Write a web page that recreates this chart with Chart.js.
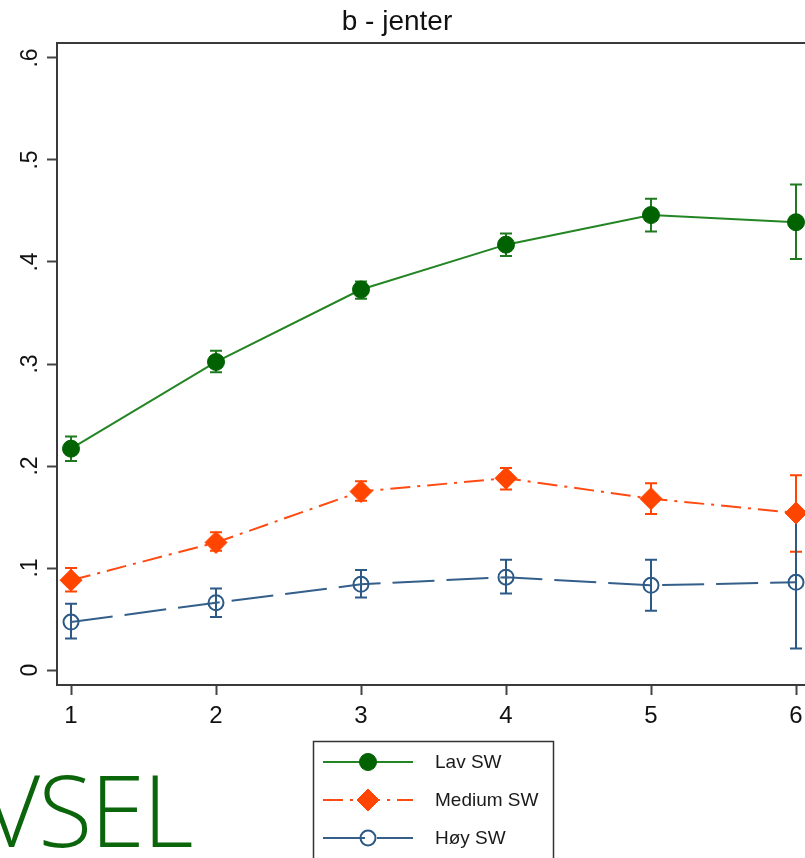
<!DOCTYPE html>
<html>
<head>
<meta charset="utf-8">
<script src="https://cdn.jsdelivr.net/npm/chart.js@4/dist/chart.umd.min.js"></script>
<style>
  html, body { margin: 0; padding: 0; background: #fff; }
  body { width: 805px; height: 858px; overflow: hidden; position: relative; }
  #wrap { position: absolute; left: 0; top: 0; width: 830px; height: 858px; }
  #big { position: absolute; left: -17px; top: 759px; font-family: 'Open Sans', sans-serif;
         font-size: 99px; font-weight: 300; letter-spacing: -2px; line-height: 1; color: #0b650b; white-space: nowrap; }
</style>
</head>
<body>
<div id="wrap"><canvas id="chart" width="830" height="858"></canvas></div>
<div id="big">VSEL</div>
<script>
// verdier lest av figuren
const xValues = [1, 2, 3, 4, 5, 6];
const xTicks = [1, 2, 3, 4, 5, 6];
const yTicks = [0, 0.1, 0.2, 0.3, 0.4, 0.5, 0.6];
const yTickLabels = ['0', '.1', '.2', '.3', '.4', '.5', '.6'];

const lav = [0.217, 0.302, 0.373, 0.417, 0.446, 0.439];
const lavLo = [0.205, 0.292, 0.364, 0.406, 0.430, 0.403];
const lavHi = [0.229, 0.313, 0.381, 0.428, 0.462, 0.476];

const medium = [0.088, 0.125, 0.175, 0.188, 0.168, 0.154];
const mediumLo = [0.077, 0.117, 0.166, 0.177, 0.153, 0.116];
const mediumHi = [0.100, 0.135, 0.185, 0.198, 0.183, 0.191];

const hoy = [0.047, 0.066, 0.084, 0.091, 0.083, 0.086];
const hoyLo = [0.031, 0.052, 0.071, 0.075, 0.058, 0.021];
const hoyHi = [0.065, 0.080, 0.098, 0.108, 0.108, 0.151];

const seriesNames = ['Lav SW', 'Medium SW', 'Høy SW'];
const title = 'b - jenter';

const errLo = [lavLo, mediumLo, hoyLo];
const errHi = [lavHi, mediumHi, hoyHi];

const toPoints = arr => arr.map((v, i) => ({ x: xValues[i], y: v }));

// ----- feilstolper -----
const errorBars = {
  id: 'errorBars',
  beforeDatasetsDraw(chart) {
    const ctx = chart.ctx;
    const yScale = chart.scales.y;
    chart.data.datasets.forEach((ds, di) => {
      const meta = chart.getDatasetMeta(di);
      ctx.save();
      ctx.strokeStyle = ds.barColor;
      ctx.lineWidth = 2;
      ctx.setLineDash([]);
      meta.data.forEach((pt, i) => {
        const yl = yScale.getPixelForValue(errLo[di][i]);
        const yh = yScale.getPixelForValue(errHi[di][i]);
        ctx.beginPath();
        ctx.moveTo(pt.x, yl); ctx.lineTo(pt.x, yh);
        ctx.moveTo(pt.x - 6, yl); ctx.lineTo(pt.x + 6, yl);
        ctx.moveTo(pt.x - 6, yh); ctx.lineTo(pt.x + 6, yh);
        ctx.stroke();
      });
      ctx.restore();
    });
  }
};

function drawMarker(ctx, style, x, y, r, fill, stroke, bw) {
  ctx.beginPath();
  if (style === 'rectRot') {
    ctx.moveTo(x, y - r); ctx.lineTo(x + r, y); ctx.lineTo(x, y + r); ctx.lineTo(x - r, y);
    ctx.closePath();
  } else {
    ctx.arc(x, y, r, 0, Math.PI * 2);
  }
  if (fill && fill !== 'transparent') { ctx.fillStyle = fill; ctx.fill(); }
  ctx.lineWidth = bw;
  ctx.strokeStyle = stroke;
  ctx.stroke();
}

// ----- tittel, y-etiketter, ramme og forklaring -----
const extras = {
  id: 'extras',
  afterDraw(chart) {
    const ctx = chart.ctx;
    const area = chart.chartArea;
    const yScale = chart.scales.y;
    ctx.save();
    // topplinje
    ctx.strokeStyle = '#3a3a3a';
    ctx.lineWidth = 2;
    ctx.beginPath();
    ctx.moveTo(area.left, area.top); ctx.lineTo(area.right, area.top);
    ctx.stroke();

    // tittel
    ctx.fillStyle = '#111';
    ctx.font = '28px "Liberation Sans", Arial, sans-serif';
    ctx.textAlign = 'center';
    ctx.textBaseline = 'alphabetic';
    ctx.fillText(title, 397, 30);

    // y-etiketter, rotert
    ctx.font = '23px "Liberation Sans", Arial, sans-serif';
    yTicks.forEach((v, i) => {
      const py = yScale.getPixelForValue(v);
      ctx.save();
      ctx.translate(37, py);
      ctx.rotate(-Math.PI / 2);
      ctx.textAlign = 'center';
      ctx.textBaseline = 'alphabetic';
      ctx.fillText(yTickLabels[i], 0, 0);
      ctx.restore();
    });

    // forklaring
    ctx.fillStyle = '#fff';
    ctx.fillRect(313, 741, 240, 140);
    ctx.strokeStyle = '#333';
    ctx.lineWidth = 1.5;
    ctx.strokeRect(313.5, 741.5, 240, 140);
    const rows = [762, 800, 838];
    chart.data.datasets.forEach((ds, di) => {
      const y = rows[di];
      ctx.save();
      ctx.strokeStyle = ds.borderColor;
      ctx.lineWidth = 2;
      ctx.setLineDash(ds.borderDash || []);
      ctx.beginPath();
      ctx.moveTo(323, y); ctx.lineTo(413, y);
      ctx.stroke();
      ctx.setLineDash([]);
      drawMarker(ctx, ds.pointStyle, 368, y, ds.pointRadius, ds.pointBackgroundColor, ds.pointBorderColor, ds.pointBorderWidth);
      ctx.restore();
      ctx.fillStyle = '#1a1a1a';
      ctx.font = '19px "Liberation Sans", Arial, sans-serif';
      ctx.textAlign = 'left';
      ctx.textBaseline = 'middle';
      ctx.fillText(seriesNames[di], 435, y + 1);
    });
    ctx.restore();
  }
};

const ctx = document.getElementById('chart').getContext('2d');
new Chart(ctx, {
  type: 'line',
  data: {
    datasets: [
      {
        label: seriesNames[0],
        data: toPoints(lav),
        borderColor: '#248524',
        barColor: '#1f7a1f',
        borderWidth: 2,
        pointStyle: 'circle',
        pointRadius: 8.5,
        pointBackgroundColor: '#006200',
        pointBorderColor: '#006200',
        pointBorderWidth: 1
      },
      {
        label: seriesNames[1],
        data: toPoints(medium),
        borderColor: '#ff4a12',
        barColor: '#ff4500',
        borderWidth: 2,
        borderDash: [20, 7, 3, 7],
        pointStyle: 'rectRot',
        pointRadius: 11,
        pointBackgroundColor: '#ff4500',
        pointBorderColor: '#ff4500',
        pointBorderWidth: 1
      },
      {
        label: seriesNames[2],
        data: toPoints(hoy),
        borderColor: '#335f8a',
        barColor: '#2d5986',
        borderWidth: 2,
        borderDash: [42, 12],
        pointStyle: 'circle',
        pointRadius: 7.5,
        pointBackgroundColor: 'rgba(255,255,255,0)',
        pointBorderColor: '#2d5986',
        pointBorderWidth: 2
      }
    ]
  },
  options: {
    responsive: false,
    animation: false,
    layout: { padding: { left: 0, top: 43, right: 19.5, bottom: 0 } },
    plugins: { legend: { display: false }, tooltip: { enabled: false }, title: { display: false } },
    elements: { line: { tension: 0 } },
    scales: {
      x: {
        type: 'linear',
        min: 0.9034,
        max: 6.1,
        afterBuildTicks: s => { s.ticks = xTicks.map(v => ({ value: v })); },
        afterFit: s => { s.height = 173; },
        grid: { drawOnChartArea: false, drawTicks: true, tickLength: 10, tickWidth: 2, tickColor: '#444' },
        border: { display: true, color: '#3a3a3a', width: 2 },
        ticks: {
          color: '#111',
          padding: 7,
          maxRotation: 0,
          font: { family: '"Liberation Sans", Arial, sans-serif', size: 24 },
          callback: v => String(v)
        }
      },
      y: {
        type: 'linear',
        min: -0.0147,
        max: 0.6147,
        afterBuildTicks: s => { s.ticks = yTicks.map(v => ({ value: v })); },
        afterFit: s => { s.width = 57; },
        grid: { drawOnChartArea: false, drawTicks: true, tickLength: 10, tickWidth: 2, tickColor: '#444' },
        border: { display: true, color: '#3a3a3a', width: 2 },
        ticks: { color: 'rgba(0,0,0,0)', font: { size: 23 } }
      }
    }
  },
  plugins: [errorBars, extras]
});
</script>
</body>
</html>
